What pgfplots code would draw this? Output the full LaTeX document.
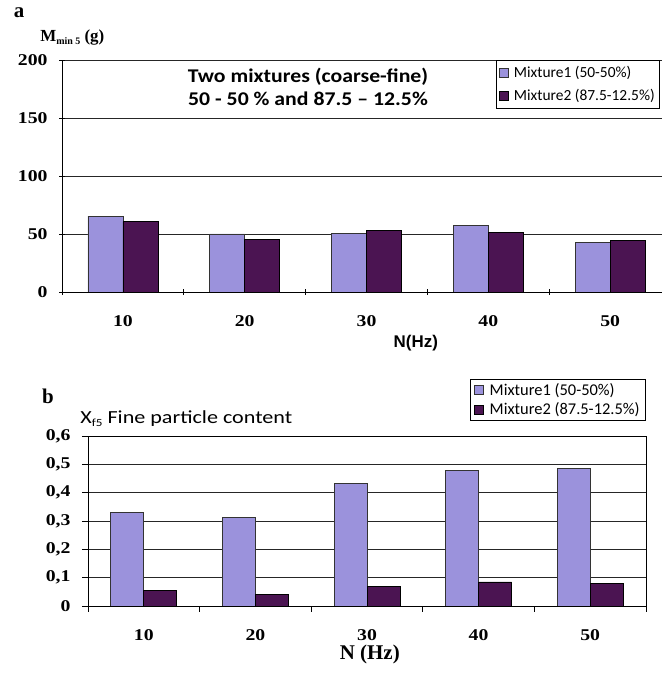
\documentclass[border=0pt]{standalone}
\usepackage{fontspec}
\setmainfont{Liberation Serif}
\newfontfamily\tnw[FakeStretch=1.2]{Liberation Serif}
\newfontfamily\calf{Carlito}
\newfontfamily\calw[FakeStretch=1.12]{Carlito}
\newfontfamily\calww[FakeStretch=1.2]{Carlito}
\newfontfamily\arf{Liberation Sans}
\usepackage{pgfplots}
\pgfplotsset{compat=1.18}
\definecolor{mixA}{HTML}{9B92DC}
\definecolor{mixB}{HTML}{4B1452}

\pgfplotsset{
  common/.style={
    scale only axis,
    xmin=-0.5, xmax=4.5,
    /pgf/number format/assume math mode=true,
    xtick={-0.5,0.5,...,4.5}, xticklabels={},
    extra x ticks={0,1,2,3,4},
    extra x tick labels={10,20,30,40,50},
    extra x tick style={major tick length=0pt, tick label style={yshift=-20bp}},
    tick align=outside, major tick length=6bp,
    tick style={black, line width=0.8bp},
    tick pos=left,
    ymajorgrids, grid style={black!85, line width=0.8bp},
    ticklabel style={font=\tnw\bfseries\fontsize{16.5}{18}\selectfont},
    yticklabel style={xshift=-8bp},
    ybar=0pt,
    legend cell align=left,
  },
  barA/.style={fill=mixA, draw=black!80, line width=0.7bp,
    legend image code/.code={\draw[fill=mixA,draw=black!80,line width=0.6bp] (0bp,-4.5bp) rectangle (9bp,4.5bp);}},
  barB/.style={fill=mixB, draw=black, line width=0.7bp,
    legend image code/.code={\draw[fill=mixB,draw=black,line width=0.6bp] (0bp,-4.5bp) rectangle (9bp,4.5bp);}},
}

\begin{document}
\begin{tikzpicture}[x=1bp,y=1bp]
\useasboundingbox (0,0) rectangle (662,680);
\clip (0,0) rectangle (662,680);
\coordinate (PA) at (62,388);
\coordinate (PB) at (88,74);

\node[font=\bfseries\fontsize{21}{24}\selectfont] at (19,667) {a};
\node[font=\bfseries\fontsize{21}{24}\selectfont] at (48,284) {b};

% ---------------- chart a ----------------
\begin{axis}[common,
  at={(PA)}, anchor=south west,
  width=609bp, height=232bp,
  ymin=0, ymax=200, ytick={0,50,...,200},
  axis lines=left, axis line style={-, black, line width=0.8bp},
  bar width=35bp,
  xlabel={N(Hz)},
  xlabel style={font=\arf\bfseries\fontsize{17}{19}\selectfont, at={(axis description cs:0.581,-0.22)}, anchor=center},
  ylabel={M{\raisebox{-0.4ex}{\fontsize{10}{11}\selectfont min 5}} (g)},
  ylabel style={rotate=-90, font=\bfseries\fontsize{17}{20}\selectfont, at={(axis description cs:-0.036,1.099)}, anchor=west, inner sep=0pt},
  legend style={at={(axis description cs:0.7126,1)}, anchor=north west,
    draw=black, line width=0.7bp, fill=white,
    font=\calf\fontsize{15.5}{18}\selectfont,
    row sep=6bp, inner xsep=3bp, inner ysep=4bp},
]
\addplot[barA] coordinates {(0,65.5) (1,50) (2,50.5) (3,57.2) (4,42.5)};
\addlegendentry{\hspace{3bp}Mixture1 (50-50\%)}
\addplot[barB] coordinates {(0,60.6) (1,45.4) (2,53.4) (3,51.2) (4,44.2)};
\addlegendentry{\hspace{3bp}Mixture2 (87.5-12.5\%)}
\end{axis}

\node[font=\calw\bfseries\fontsize{19.5}{22}\selectfont] at (308,603) {Two mixtures (coarse-fine)};
\node[font=\calw\bfseries\fontsize{19.5}{22}\selectfont] at (308,581) {50 - 50 \% and 87.5 – 12.5\%};

% ---------------- chart b ----------------
\begin{axis}[common,
  at={(PB)}, anchor=south west,
  width=558bp, height=170bp,
  ymin=0, ymax=0.6, ytick={0,0.1,...,0.6},
  yticklabel style={/pgf/number format/.cd, use comma, fixed, precision=1},
  axis line style={black, line width=0.8bp},
  bar width=33bp,
  xlabel={N (Hz)},
  xlabel style={font=\bfseries\fontsize{21}{23}\selectfont, at={(axis description cs:0.505,-0.288)}, anchor=center},
  ylabel={X{\raisebox{-0.3ex}{\fontsize{11}{12}\selectfont f5}} Fine particle content},
  ylabel style={rotate=-90, font=\calww\fontsize{18.5}{21}\selectfont, at={(axis description cs:-0.014,1.1)}, anchor=west, inner sep=0pt},
  legend style={at={(axis description cs:1,1.335)}, anchor=north east,
    draw=black, line width=0.7bp, fill=white,
    font=\calf\fontsize{16.5}{19}\selectfont,
    row sep=2bp, inner xsep=4bp, inner ysep=2bp},
]
\addplot[barA] coordinates {(0,0.331) (1,0.314) (2,0.433) (3,0.479) (4,0.486)};
\addlegendentry{\hspace{4bp}Mixture1 (50-50\%)}
\addplot[barB] coordinates {(0,0.054) (1,0.040) (2,0.068) (3,0.085) (4,0.080)};
\addlegendentry{\hspace{4bp}Mixture2 (87.5-12.5\%)}
\end{axis}
\end{tikzpicture}
\end{document}
